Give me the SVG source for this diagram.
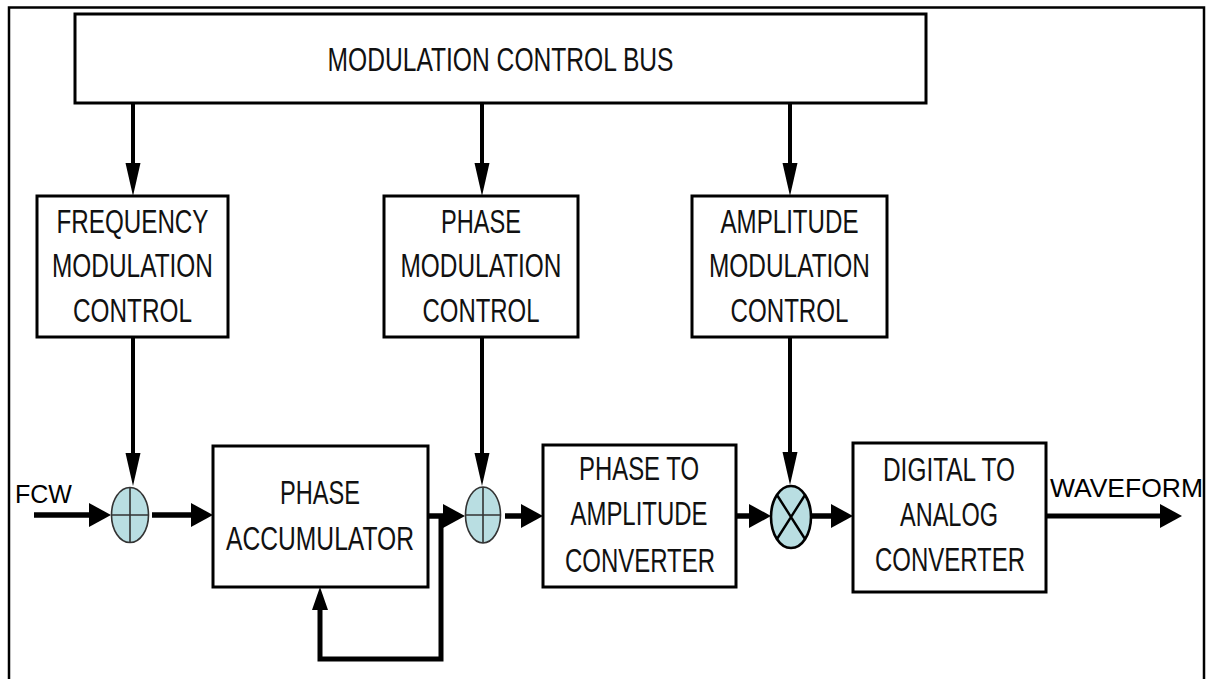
<svg xmlns="http://www.w3.org/2000/svg" width="1214" height="679" viewBox="0 0 1214 679">
  <style>
    .box { fill: #ffffff; stroke: #000; stroke-width: 3; }
    .lbl { font-family: "Liberation Sans", Arial, sans-serif; font-size: 34px; fill: #111; text-anchor: middle; }
    .io { font-family: "Liberation Sans", Arial, sans-serif; font-size: 25px; fill: #000; }
    .wire { fill: none; stroke: #000; stroke-linejoin: miter; }
    .v { stroke-width: 4; }
    .h { stroke-width: 5.5; }
    .sum { fill: #b9dee2; stroke: #333; stroke-width: 1.6; }
    .sumx { stroke: #333; stroke-width: 1.6; }
    .mul { fill: #b9dee2; stroke: #000; stroke-width: 2.6; }
    .mulx { stroke: #000; stroke-width: 2.4; }
  </style>
  <defs>
    <!-- long narrow head for the vertical control lines -->
    <marker id="headV" markerUnits="userSpaceOnUse" markerWidth="34" markerHeight="16" viewBox="0 0 34 16" refX="2" refY="8" orient="auto">
      <path d="M0,0.5 L33,8 L0,15.5 z" fill="#000"/>
    </marker>
    <!-- broad head for the signal path -->
    <marker id="headH" markerUnits="userSpaceOnUse" markerWidth="24" markerHeight="26" viewBox="0 0 24 26" refX="2" refY="13" orient="auto">
      <path d="M0,1 L22,13 L0,25 z" fill="#000"/>
    </marker>
    <!-- head for the feedback return -->
    <marker id="headF" markerUnits="userSpaceOnUse" markerWidth="24" markerHeight="18" viewBox="0 0 24 18" refX="2" refY="9" orient="auto">
      <path d="M0,1 L23,9 L0,17 z" fill="#000"/>
    </marker>
  </defs>

  <rect width="1214" height="679" fill="#fff"/>
  <!-- frame -->
  <path d="M9,681 V7.5 H1204 V681" fill="none" stroke="#000" stroke-width="2.5"/>

  <!-- connectors -->
  <g id="connectors">
    <path class="wire v" d="M133,103 V165" marker-end="url(#headV)"/>
    <path class="wire v" d="M482,103 V165" marker-end="url(#headV)"/>
    <path class="wire v" d="M790,103 V165" marker-end="url(#headV)"/>

    <path class="wire v" d="M133,337 V455" marker-end="url(#headV)"/>
    <path class="wire v" d="M482,337 V455" marker-end="url(#headV)"/>
    <path class="wire v" d="M790,337 V454" marker-end="url(#headV)"/>

    <path class="wire h" d="M34,515 H91" marker-end="url(#headH)"/>
    <path class="wire h" d="M152,515 H193" marker-end="url(#headH)"/>
    <path class="wire h" d="M428,516 H445" marker-end="url(#headH)"/>
    <path class="wire h" d="M505,516 H523" marker-end="url(#headH)"/>
    <path class="wire h" d="M736,516 H751" marker-end="url(#headH)"/>
    <path class="wire h" d="M812,516 H833" marker-end="url(#headH)"/>
    <path class="wire" stroke-width="5" d="M1046,516 H1162" marker-end="url(#headH)"/>

    <!-- accumulator feedback -->
    <path class="wire" stroke-width="5" d="M441,516 V659 H320 V608" marker-end="url(#headF)"/>
  </g>

  <g id="bus">
    <rect class="box" x="75" y="14" width="851" height="89"/>
    <text class="lbl" x="500.5" y="71" textLength="346" lengthAdjust="spacingAndGlyphs">MODULATION CONTROL BUS</text>
  </g>

  <g id="fm-control">
    <rect class="box" x="37" y="196" width="191" height="141"/>
    <text class="lbl" x="132.5" y="233" textLength="152" lengthAdjust="spacingAndGlyphs">FREQUENCY</text>
    <text class="lbl" x="132.5" y="277" textLength="161" lengthAdjust="spacingAndGlyphs">MODULATION</text>
    <text class="lbl" x="132.5" y="322" textLength="119" lengthAdjust="spacingAndGlyphs">CONTROL</text>
  </g>

  <g id="pm-control">
    <rect class="box" x="384" y="196" width="194" height="141"/>
    <text class="lbl" x="481" y="233" textLength="80" lengthAdjust="spacingAndGlyphs">PHASE</text>
    <text class="lbl" x="481" y="277" textLength="161" lengthAdjust="spacingAndGlyphs">MODULATION</text>
    <text class="lbl" x="481" y="322" textLength="117" lengthAdjust="spacingAndGlyphs">CONTROL</text>
  </g>

  <g id="am-control">
    <rect class="box" x="692" y="196" width="195" height="141"/>
    <text class="lbl" x="789.5" y="233" textLength="138" lengthAdjust="spacingAndGlyphs">AMPLITUDE</text>
    <text class="lbl" x="789.5" y="277" textLength="161" lengthAdjust="spacingAndGlyphs">MODULATION</text>
    <text class="lbl" x="789.5" y="322" textLength="118" lengthAdjust="spacingAndGlyphs">CONTROL</text>
  </g>

  <g id="fcw-label">
    <text class="io" x="15" y="503" textLength="57" lengthAdjust="spacingAndGlyphs">FCW</text>
  </g>

  <g id="adder-freq">
    <ellipse class="sum" cx="130" cy="515" rx="18.5" ry="27.5"/>
    <path class="sumx" d="M130,487.5 V542.5 M111.5,515 H148.5"/>
  </g>

  <g id="phase-accumulator">
    <rect class="box" x="213" y="446" width="215" height="141"/>
    <text class="lbl" x="320" y="504" textLength="80" lengthAdjust="spacingAndGlyphs">PHASE</text>
    <text class="lbl" x="320" y="550" textLength="188" lengthAdjust="spacingAndGlyphs">ACCUMULATOR</text>
  </g>

  <g id="adder-phase">
    <ellipse class="sum" cx="483" cy="515" rx="17.5" ry="28"/>
    <path class="sumx" d="M483,487 V543 M465.5,515 H500.5"/>
  </g>

  <g id="phase-to-amplitude">
    <rect class="box" x="543" y="445" width="193" height="142"/>
    <text class="lbl" x="639" y="480" textLength="120" lengthAdjust="spacingAndGlyphs">PHASE TO</text>
    <text class="lbl" x="639" y="525" textLength="137" lengthAdjust="spacingAndGlyphs">AMPLITUDE</text>
    <text class="lbl" x="640" y="572" textLength="150" lengthAdjust="spacingAndGlyphs">CONVERTER</text>
  </g>

  <g id="multiplier">
    <ellipse class="mul" cx="791" cy="517" rx="20" ry="31"/>
    <path class="mulx" d="M777,495 L805,539 M805,495 L777,539"/>
  </g>

  <g id="dac">
    <rect class="box" x="853" y="443" width="193" height="149"/>
    <text class="lbl" x="949" y="481" textLength="132" lengthAdjust="spacingAndGlyphs">DIGITAL TO</text>
    <text class="lbl" x="949" y="526" textLength="98" lengthAdjust="spacingAndGlyphs">ANALOG</text>
    <text class="lbl" x="950" y="571" textLength="150" lengthAdjust="spacingAndGlyphs">CONVERTER</text>
  </g>

  <g id="waveform-label">
    <text class="io" x="1050" y="497" textLength="153" lengthAdjust="spacingAndGlyphs">WAVEFORM</text>
  </g>
</svg>
